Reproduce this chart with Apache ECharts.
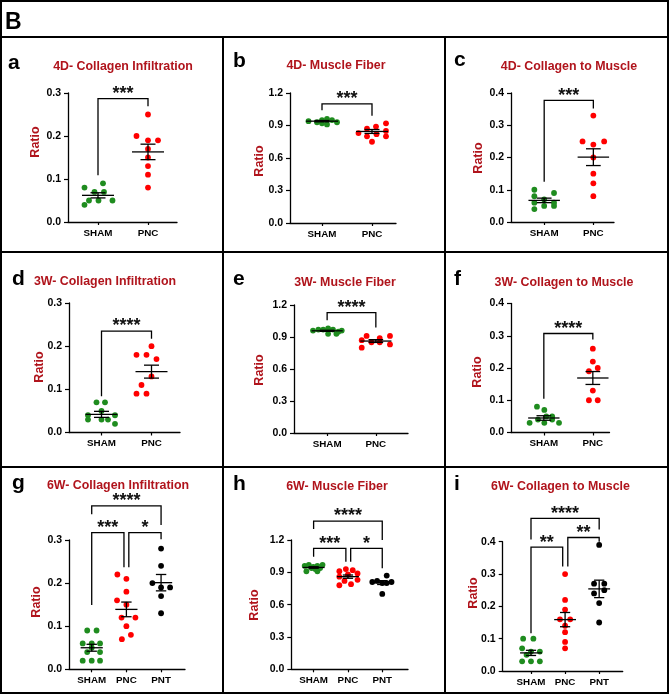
<!DOCTYPE html>
<html><head><meta charset="utf-8">
<script src="https://cdn.jsdelivr.net/npm/echarts@6/dist/echarts.min.js"></script>
<style>html,body{margin:0;padding:0;background:#fff}#c{width:669px;height:696px}</style>
</head><body><div id="c"></div>
<script>
// ---------- DATA ----------
const cats2 = ['SHAM', 'PNC'];
const cats3 = ['SHAM', 'PNC', 'PNT'];

// a: 4D- Collagen Infiltration
const aSham = [0.08, 0.09, 0.07, 0.07, 0.05, 0.05, 0.05, 0.04];
const aPnc  = [0.25, 0.20, 0.19, 0.19, 0.17, 0.15, 0.13, 0.11, 0.08];
const aMean = [0.062, 0.163];
const aSem  = [0.006, 0.018];
const aSig  = ['***'];

// b: 4D- Muscle Fiber
const bSham = [0.94, 0.93, 0.95, 0.96, 0.95, 0.93, 0.91, 0.92];
const bPnc  = [0.83, 0.87, 0.89, 0.92, 0.80, 0.82, 0.85, 0.80, 0.75];
const bMean = [0.94, 0.845];
const bSem  = [0.006, 0.018];
const bSig  = ['***'];

// c: 4D- Collagen to Muscle
const cSham = [0.10, 0.08, 0.09, 0.07, 0.06, 0.06, 0.05, 0.05, 0.04];
const cPnc  = [0.33, 0.25, 0.25, 0.24, 0.20, 0.15, 0.12, 0.08];
const cMean = [0.067, 0.201];
const cSem  = [0.007, 0.026];
const cSig  = ['***'];

// d: 3W- Collagen Infiltration
const dSham = [0.07, 0.07, 0.05, 0.04, 0.04, 0.03, 0.03, 0.03, 0.02];
const dPnc  = [0.20, 0.18, 0.18, 0.17, 0.13, 0.11, 0.09, 0.09];
const dMean = [0.042, 0.141];
const dSem  = [0.007, 0.015];
const dSig  = ['****'];

// e: 3W- Muscle Fiber
const eSham = [0.96, 0.97, 0.97, 0.98, 0.97, 0.95, 0.96, 0.93, 0.93];
const ePnc  = [0.87, 0.91, 0.85, 0.89, 0.91, 0.83, 0.80, 0.85];
const eMean = [0.958, 0.862];
const eSem  = [0.005, 0.013];
const eSig  = ['****'];

// f: 3W- Collagen to Muscle
const fSham = [0.08, 0.07, 0.05, 0.05, 0.04, 0.04, 0.03, 0.03, 0.03];
const fPnc  = [0.26, 0.22, 0.20, 0.19, 0.13, 0.10, 0.10];
const fMean = [0.045, 0.169];
const fSem  = [0.007, 0.020];
const fSig  = ['****'];

// g: 6W- Collagen Infiltration
const gSham = [0.09, 0.09, 0.06, 0.06, 0.06, 0.05, 0.04, 0.04, 0.02, 0.02, 0.02];
const gPnc  = [0.22, 0.21, 0.18, 0.16, 0.15, 0.12, 0.12, 0.10, 0.08, 0.07];
const gPnt  = [0.28, 0.24, 0.20, 0.19, 0.19, 0.17, 0.13];
const gMean = [0.050, 0.139, 0.201];
const gSem  = [0.008, 0.017, 0.019];
const gSig  = ['***', '*', '****'];

// h: 6W- Muscle Fiber
const hSham = [0.96, 0.97, 0.95, 0.96, 0.97, 0.91, 0.91, 0.94, 0.94, 0.93];
const hPnc  = [0.91, 0.93, 0.92, 0.89, 0.86, 0.88, 0.83, 0.78, 0.79, 0.82];
const hPnt  = [0.81, 0.82, 0.80, 0.87, 0.81, 0.70, 0.80];
const hMean = [0.945, 0.860, 0.805];
const hSem  = [0.007, 0.015, 0.018];
const hSig  = ['***', '*', '****'];

// i: 6W- Collagen to Muscle
const iSham = [0.10, 0.10, 0.07, 0.06, 0.06, 0.05, 0.03, 0.03, 0.03];
const iPnc  = [0.30, 0.22, 0.19, 0.16, 0.16, 0.14, 0.12, 0.09, 0.07];
const iPnt  = [0.39, 0.27, 0.27, 0.25, 0.24, 0.21, 0.15];
const iMean = [0.056, 0.159, 0.254];
const iSem  = [0.008, 0.022, 0.027];
const iSig  = ['**', '**', '****'];

// ---------- LAYOUT (horizontal scatter of points, bracket placement) ----------
const J = {
  a: [[-0.27, 0.10, -0.07, 0.12, -0.18, 0.01, 0.29, -0.27], [0, -0.23, 0, 0.2, 0, 0, 0, 0, 0]],
  b: [[-0.27, -0.1, 0, 0.1, 0.2, 0.3, 0.1, 0], [-0.27, -0.1, 0.08, 0.28, -0.1, 0.09, 0.28, 0.28, 0]],
  c: [[-0.2, -0.2, 0.2, 0, -0.2, 0.2, 0, 0.2, -0.2], [0, -0.22, 0.22, 0, 0, 0, 0, 0]],
  d: [[-0.1, 0.07, 0, -0.27, 0.27, -0.27, 0, 0.13, 0.27], [0, -0.3, -0.1, 0.1, 0, -0.2, -0.3, -0.1]],
  e: [[-0.29, -0.18, -0.08, 0.02, 0.12, 0.23, 0.3, 0.02, 0.19], [-0.29, -0.19, -0.09, 0.08, 0.29, 0.29, -0.29, 0.08]],
  f: [[-0.14, 0.01, 0.05, 0.17, -0.12, 0.17, -0.29, 0.01, 0.31], [0, 0, 0.1, -0.08, 0, -0.08, 0.1]],
  g: [[-0.13, 0.14, -0.26, 0, 0.24, 0, -0.13, 0.24, -0.26, 0, 0.24], [-0.26, 0, 0, -0.27, 0, -0.14, 0.26, 0, 0.13, -0.13], [0, 0, -0.25, 0, 0.26, 0, 0]],
  h: [[-0.26, -0.14, -0.01, 0.11, 0.26, -0.21, 0.11, 0.19, -0.06, 0.05], [-0.25, -0.06, 0.14, 0.28, -0.25, 0, 0.28, -0.25, 0.09, -0.1], [-0.29, -0.15, 0, 0.13, 0.27, 0, 0.13]],
  i: [[-0.23, 0.07, -0.26, 0, 0.26, -0.13, -0.26, 0, 0.26], [0, 0, 0, -0.15, 0.15, 0, 0, 0, 0], [0, -0.15, 0.15, 0.15, -0.15, 0, 0]]
};

const FONT = 'Arial, "Liberation Sans", sans-serif';
const GROUP_COLORS = ['#1f8c1f', '#ff0000', '#000000'];
const TITLE_RED = '#b0141c';

const panels = [
  {id:'a', title:'4D- Collagen Infiltration', cats:cats2, vals:[aSham,aPnc], mean:aMean, sem:aSem, sig:aSig,
   yMax:0.3, yStep:0.1, dec:1, xMin:-0.6, xMax:1.58, grid:[68,93,109,129],
   br:[[0,1,0.287,0.109,0.269]], letter:[8,70.5], titleXY:[123,67], ratioXY:[36,142]},
  {id:'b', title:'4D- Muscle Fiber', cats:cats2, vals:[bSham,bPnc], mean:bMean, sem:bSem, sig:bSig,
   yMax:1.2, yStep:0.3, dec:1, xMin:-0.64, xMax:1.48, grid:[290,93,106,130],
   br:[[0,1,1.10,1.04,0.99]], letter:[233,68.8], titleXY:[336,66], ratioXY:[260,161]},
  {id:'c', title:'4D- Collagen to Muscle', cats:cats2, vals:[cSham,cPnc], mean:cMean, sem:cSem, sig:cSig,
   yMax:0.4, yStep:0.1, dec:1, xMin:-0.675, xMax:1.42, grid:[511,93,103,129],
   br:[[0,1,0.377,0.125,0.352]], letter:[454,67.5], titleXY:[569,67], ratioXY:[479,158]},
  {id:'d', title:'3W- Collagen Infiltration', cats:cats2, vals:[dSham,dPnc], mean:dMean, sem:dSem, sig:dSig,
   yMax:0.3, yStep:0.1, dec:1, xMin:-0.65, xMax:1.57, grid:[69,303,111,129.5],
   br:[[0,1,0.235,0.084,0.217]], letter:[12,287], titleXY:[105,282], ratioXY:[40,367]},
  {id:'e', title:'3W- Muscle Fiber', cats:cats2, vals:[eSham,ePnc], mean:eMean, sem:eSem, sig:eSig,
   yMax:1.2, yStep:0.3, dec:1, xMin:-0.68, xMax:1.66, grid:[294,305,114,128],
   br:[[0,1,1.128,1.058,0.99]], letter:[233,287], titleXY:[345,282.5], ratioXY:[260,370]},
  {id:'f', title:'3W- Collagen to Muscle', cats:cats2, vals:[fSham,fPnc], mean:fMean, sem:fSem, sig:fSig,
   yMax:0.4, yStep:0.1, dec:1, xMin:-0.67, xMax:1.34, grid:[511,303.5,98.5,129],
   br:[[0,1,0.307,0.105,0.288]], letter:[454,287], titleXY:[564,282.5], ratioXY:[478,372]},
  {id:'g', title:'6W- Collagen Infiltration', cats:cats3, vals:[gSham,gPnc,gPnt], mean:gMean, sem:gSem, sig:gSig,
   yMax:0.3, yStep:0.1, dec:1, xMin:-0.655, xMax:2.69, grid:[69,540,116,129.3],
   br:[[0,0.93,0.317,0.149,0.237],[1.07,2,0.317,0.237,0.302],[0,2,0.379,0.360,0.335]],
   letter:[12,490.5], titleXY:[118,485.5], ratioXY:[37,602]},
  {id:'h', title:'6W- Muscle Fiber', cats:cats3, vals:[hSham,hPnc,hPnt], mean:hMean, sem:hSem, sig:hSig,
   yMax:1.2, yStep:0.3, dec:1, xMin:-0.65, xMax:2.75, grid:[291.3,540,116.7,129.3],
   br:[[0,0.94,1.123,1.045,0.999],[1.08,2,1.123,0.999,0.937],[0,2,1.376,1.302,1.2]],
   letter:[233,492], titleXY:[337,486.7], ratioXY:[255,605]},
  {id:'i', title:'6W- Collagen to Muscle', cats:cats3, vals:[iSham,iPnc,iPnt], mean:iMean, sem:iSem, sig:iSig,
   yMax:0.4, yStep:0.1, dec:1, xMin:-0.83, xMax:2.69, grid:[502.7,541.7,120,129.3],
   br:[[0,0.93,0.383,0.117,0.323],[1.08,2,0.413,0.323,0.400],[0,2,0.472,0.407,0.438]],
   letter:[454,492], titleXY:[560.5,486.8], ratioXY:[474,593]}
];

const MEAN_HW = 0.32, SEM_HW = 0.15, STAR_DY = 4.6;
const LETTER_FS = 21;

const grid = [], xAxis = [], yAxis = [], series = [], graphic = [];

panels.forEach((p, i) => {
  grid.push({left:p.grid[0], top:p.grid[1], width:p.grid[2], height:p.grid[3]});
  const catIdx = p.cats.map((_, k) => k);
  xAxis.push({
    gridIndex:i, type:'value', min:p.xMin, max:p.xMax, splitLine:{show:false},
    axisLine:{onZero:false, lineStyle:{color:'#000', width:1.3}},
    axisTick:{show:true, customValues:catIdx, length:3, lineStyle:{color:'#000', width:1.2}},
    axisLabel:{customValues:catIdx, formatter:v => p.cats[Math.round(v)], margin:6, color:'#000',
      fontWeight:'bold', fontSize:9.8, fontFamily:FONT}
  });
  yAxis.push({
    gridIndex:i, type:'value', min:0, max:p.yMax, interval:p.yStep, splitLine:{show:false},
    axisLine:{show:true, onZero:false, lineStyle:{color:'#000', width:1.3}},
    axisTick:{show:true, length:4, lineStyle:{color:'#000', width:1.2}},
    axisLabel:{margin:7, color:'#000', fontWeight:'bold', fontSize:10.5, fontFamily:FONT,
      formatter:v => v.toFixed(p.dec)}
  });
  p.vals.forEach((arr, g) => {
    const jit = J[p.id][g];
    series.push({
      type:'scatter', xAxisIndex:i, yAxisIndex:i, symbol:'circle', symbolSize:5.8, z:2, silent:true,
      itemStyle:{color:GROUP_COLORS[g], opacity:1},
      data: arr.map((v, k) => [g + jit[k], v])
    });
  });
  // mean ± SEM
  series.push({
    type:'custom', xAxisIndex:i, yAxisIndex:i, clip:false, z:3, silent:true,
    data: p.mean.map((m, g) => [g, m, p.sem[g]]),
    renderItem: (params, api) => {
      const x = api.value(0), m = api.value(1), s = api.value(2);
      const st = {stroke:'#000', lineWidth:1.3};
      const L = (x1, y1, x2, y2) => {
        const a = api.coord([x1, y1]), b = api.coord([x2, y2]);
        return {type:'line', shape:{x1:a[0], y1:a[1], x2:b[0], y2:b[1]}, style:st};
      };
      return {type:'group', children:[
        L(x - MEAN_HW, m, x + MEAN_HW, m),
        L(x - SEM_HW, m + s, x + SEM_HW, m + s),
        L(x - SEM_HW, m - s, x + SEM_HW, m - s),
        L(x, m - s, x, m + s)
      ]};
    }
  });
  // significance brackets
  series.push({
    type:'custom', xAxisIndex:i, yAxisIndex:i, clip:false, z:3, silent:true,
    data: p.br,
    renderItem: (params, api) => {
      const x1 = api.value(0), x2 = api.value(1), yt = api.value(2), yl = api.value(3), yr = api.value(4);
      const pts = [api.coord([x1, yl]), api.coord([x1, yt]), api.coord([x2, yt]), api.coord([x2, yr])];
      const mid = api.coord([(x1 + x2) / 2, yt]);
      return {type:'group', children:[
        {type:'polyline', shape:{points:pts}, style:{stroke:'#000', lineWidth:1.3, fill:'none'}},
        {type:'text', style:{text:p.sig[params.dataIndex], x:mid[0], y:mid[1] - STAR_DY,
          align:'center', verticalAlign:'middle', font:'bold 18px ' + FONT, fill:'#111'}}
      ]};
    }
  });
  // panel letter, title, axis title
  graphic.push({type:'text', x:p.letter[0], y:p.letter[1] - 0.35 * LETTER_FS, silent:true,
    style:{text:p.id, font:'bold ' + LETTER_FS + 'px ' + FONT, fill:'#000', align:'left', verticalAlign:'middle'}});
  graphic.push({type:'text', x:p.titleXY[0], y:p.titleXY[1], silent:true,
    style:{text:p.title, font:'bold 12.4px ' + FONT, fill:TITLE_RED, align:'center', verticalAlign:'middle'}});
  graphic.push({type:'text', x:p.ratioXY[0], y:p.ratioXY[1], rotation:Math.PI / 2, silent:true,
    style:{text:'Ratio', font:'bold 12.5px ' + FONT, fill:TITLE_RED, align:'center', verticalAlign:'middle'}});
});

// frame
const frame = {stroke:'#000', lineWidth:2};
graphic.push({type:'rect', shape:{x:1, y:1, width:667, height:692}, style:{fill:'none', stroke:'#000', lineWidth:2}, silent:true});
[[1,37,668,37],[1,252,668,252],[1,467,668,467],[223,37,223,693],[445,37,445,693]].forEach(l => {
  graphic.push({type:'line', shape:{x1:l[0], y1:l[1], x2:l[2], y2:l[3]}, style:frame, silent:true});
});
graphic.push({type:'text', x:5, y:30.5 - 0.35 * 23, silent:true,
  style:{text:'B', font:'bold 23px ' + FONT, fill:'#000', align:'left', verticalAlign:'middle'}});

const chart = echarts.init(document.getElementById('c'), null, {renderer:'canvas'});
chart.setOption({animation:false, backgroundColor:'#fff', grid, xAxis, yAxis, series, graphic});
</script></body></html>
